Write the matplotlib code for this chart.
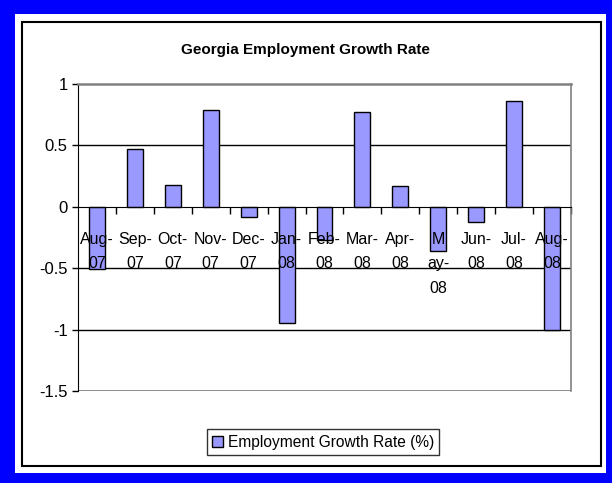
import matplotlib
matplotlib.use("Agg")
import matplotlib.pyplot as plt
import matplotlib.patches as mpatches
import numpy as np

months = ["Aug-\n07", "Sep-\n07", "Oct-\n07", "Nov-\n07", "Dec-\n07", "Jan-\n08",
          "Feb-\n08", "Mar-\n08", "Apr-\n08", "M\nay-\n08", "Jun-\n08", "Jul-\n08", "Aug-\n08"]
growth = [-0.51, 0.47, 0.18, 0.79, -0.08, -0.95, -0.27, 0.77, 0.17, -0.36, -0.12, 0.86, -1.0]
yticks = [1, 0.5, 0, -0.5, -1, -1.5]
ytick_labels = ["1", "0.5", "0", "-0.5", "-1", "-1.5"]

W, H = 612, 483
BAR_COLOR = "#9999FF"
FONT = "Liberation Sans"

plt.rcParams["font.family"] = [FONT, "DejaVu Sans"]

fig = plt.figure(figsize=(W / 100, H / 100), dpi=100)
fig.patch.set_facecolor("#0000FF")


def px_rect(x0, y0, x1, y1, **kw):
    # rectangle in pixel coords (top-left origin) -> figure coords
    return mpatches.Rectangle((x0 / W, 1 - y1 / H), (x1 - x0) / W, (y1 - y0) / H,
                              transform=fig.transFigure, figure=fig, **kw)


fig.patches.append(px_rect(15, 14, 606, 473, facecolor="white", edgecolor="none", zorder=-2))
fig.patches.append(px_rect(22, 22, 601, 466, facecolor="none", edgecolor="black", lw=1.5, zorder=-1))

# plot area
x0, x1, ytop, ybot = 78, 571, 84, 391
ax = fig.add_axes([x0 / W, 1 - ybot / H, (x1 - x0) / W, (ybot - ytop) / H])
ax.set_facecolor("none")

x = np.arange(len(months))
for g in [0.5, -0.5, -1]:
    ax.axhline(g, color="black", lw=1.0, zorder=0)
ax.axhline(-1.5, color="#808080", lw=2.0, zorder=0)
ax.bar(x, growth, width=0.42, color=BAR_COLOR, edgecolor="black", lw=1.0, zorder=1)

ax.set_xlim(-0.5, len(months) - 0.5)
ax.set_ylim(-1.5, 1)

ax.spines["bottom"].set_position(("data", 0))
ax.spines["bottom"].set_color("black")
ax.spines["left"].set_color("black")
ax.spines["top"].set_color("#808080")
ax.spines["top"].set_linewidth(1.8)
ax.spines["right"].set_color("#808080")
ax.spines["right"].set_linewidth(1.2)

ax.set_yticks(yticks)
ax.set_yticklabels(ytick_labels, fontsize=12)
ax.tick_params(axis="y", direction="out", length=4.5, width=1, pad=3)

ax.set_xticks(x)
ax.set_xticklabels(months, fontsize=11.5, linespacing=1.78)
ax.tick_params(axis="x", which="major", length=0, pad=18)
ax.set_xticks(np.arange(0.5, len(months) - 0.5 + 0.01, 1.0), minor=True)
ax.tick_params(axis="x", which="minor", direction="out", length=5, width=1)

fig.text(305 / W, 1 - 50 / H, "Georgia Employment Growth Rate", ha="center", va="center",
         fontsize=11, fontweight="bold")

handle = mpatches.Patch(facecolor=BAR_COLOR, edgecolor="black", lw=1.0)
leg = fig.legend([handle], ["Employment Growth Rate (%)"], loc="center",
                 bbox_to_anchor=(323 / W, 1 - 442 / H), fontsize=11.2, frameon=True,
                 fancybox=False, handlelength=0.7, handleheight=0.7, handletextpad=0.3,
                 borderpad=0.35, borderaxespad=0)
leg.get_frame().set_edgecolor("black")
leg.get_frame().set_linewidth(1.0)

fig.savefig("out.png", dpi=100, facecolor=fig.get_facecolor())
